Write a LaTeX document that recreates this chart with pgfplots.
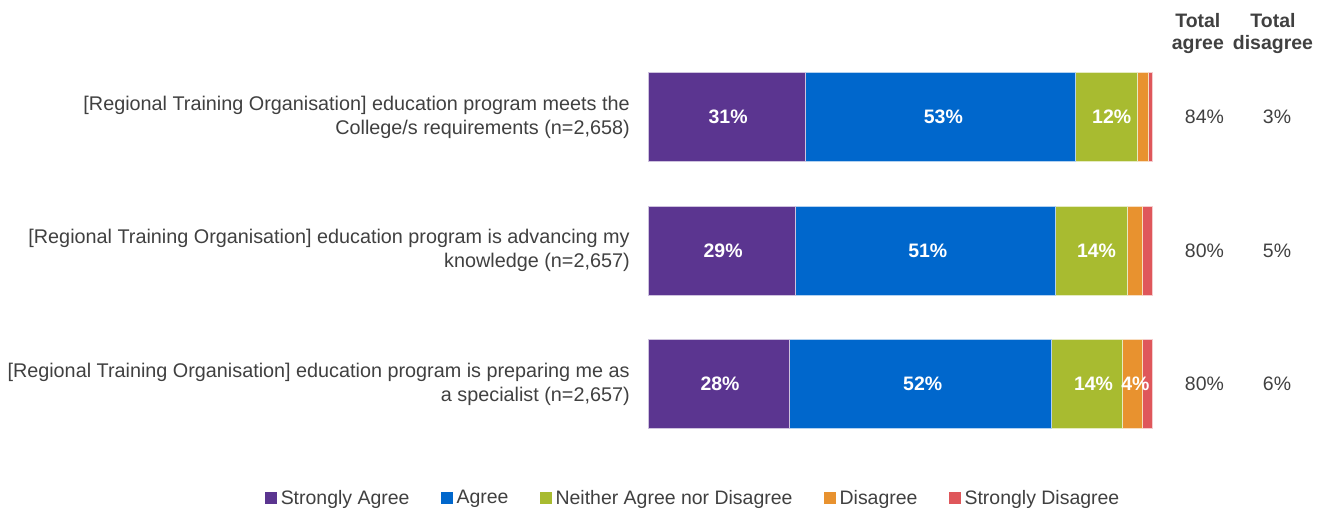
\documentclass[border=0pt]{standalone}
\usepackage{pgfplots}
\pgfplotsset{compat=1.18}
\usepackage{fontspec}
\setmainfont{Liberation Sans}
\definecolor{cSA}{HTML}{5B3590}
\definecolor{cA}{HTML}{0067CC}
\definecolor{cN}{HTML}{A8BB30}
\definecolor{cD}{HTML}{E8922F}
\definecolor{cSD}{HTML}{DF575B}
\definecolor{txt}{HTML}{404040}
\newcommand\ff{\fontsize{14.6pt}{18pt}\selectfont}
\newcommand\fl{\fontsize{14.85pt}{18pt}\selectfont}
\pgfplotsset{common/.style={
  at={(486pt,45.9375pt)}, anchor=south west,
  scale only axis, width=378pt, height=300.375pt,
  xmin=0, xmax=100, ymin=-0.5, ymax=2.5, clip=false}}
\begin{document}
\begin{tikzpicture}
\path[use as bounding box] (0pt,0pt) rectangle (998.25pt,384pt);
\begin{axis}[common,
  xbar stacked, bar width=66.75pt,
  hide x axis,
  axis y line*=left, y axis line style={draw=none},
  major tick length=0pt,
  ytick={0,1,2},
  yticklabels={{[Regional Training Organisation] education program is preparing me as\\a specialist (n=2,657)},
               {[Regional Training Organisation] education program is advancing my\\knowledge (n=2,657)},
               {[Regional Training Organisation] education program meets the\\College/s requirements (n=2,658)}},
  yticklabel style={align=right, font=\fl, text=txt, inner sep=0pt, xshift=-13.5pt},
  legend columns=5,
  legend style={draw=none, font=\ff, text=txt, at={(0.0903,-0.118)}, anchor=center,
    /tikz/every odd column/.append style={column sep=0.8pt},
    /tikz/every even column/.append style={column sep=21.5pt}},
  legend image code/.code={\fill[#1,draw=none] (0pt,-4.5pt) rectangle (9pt,4.5pt);},
]
\addplot[fill=cSA, draw=white!70!cSA, line width=0.4pt] coordinates {(28.0,0) (29.2,1) (31.2,2)};
\addplot[fill=cA, draw=white!70!cA, line width=0.4pt] coordinates {(52.0,0) (51.6,1) (53.6,2)};
\addplot[fill=cN, draw=white!70!cN, line width=0.4pt] coordinates {(14.0,0) (14.3,1) (12.3,2)};
\addplot[fill=cD, draw=white!70!cD, line width=0.4pt] coordinates {(4.1,0) (3.0,1) (2.1,2)};
\addplot[fill=cSD, draw=white!70!cSD, line width=0.4pt] coordinates {(1.9,0) (1.9,1) (0.8,2)};
\legend{Strongly Agree, Agree, Neither Agree nor Disagree, Disagree, Strongly Disagree}
% totals
\tikzset{tot/.style={font=\ff, text=txt, inner sep=0pt}}
\node[tot] at (axis cs:110.4,2) {84\%};
\node[tot] at (axis cs:124.8,2) {3\%};
\node[tot] at (axis cs:110.4,1) {80\%};
\node[tot] at (axis cs:124.8,1) {5\%};
\node[tot] at (axis cs:110.4,0) {80\%};
\node[tot] at (axis cs:124.8,0) {6\%};
\node[font={\fontsize{14.6pt}{16.5pt}\selectfont\bfseries}, text=txt, align=center, inner sep=0pt] at (axis cs:109.1,2.629) {Total\\agree};
\node[font={\fontsize{14.6pt}{16.5pt}\selectfont\bfseries}, text=txt, align=center, inner sep=0pt] at (axis cs:124.0,2.629) {Total\\disagree};
\end{axis}
\begin{axis}[common, hide axis]
\addplot[only marks, mark=none, nodes near coords, point meta=explicit symbolic,
  nodes near coords align=center,
  every node near coord/.style={font=\ff\bfseries, text=white, inner sep=0pt, anchor=center}]
  table[meta=lab] {
x y lab
15.9 2 31\%
58.6 2 53\%
92.0 2 12\%
14.9 1 29\%
55.5 1 51\%
89.0 1 14\%
14.3 0 28\%
54.5 0 52\%
88.4 0 14\%
96.7 0 4\%
};
\end{axis}
\end{tikzpicture}
\end{document}
